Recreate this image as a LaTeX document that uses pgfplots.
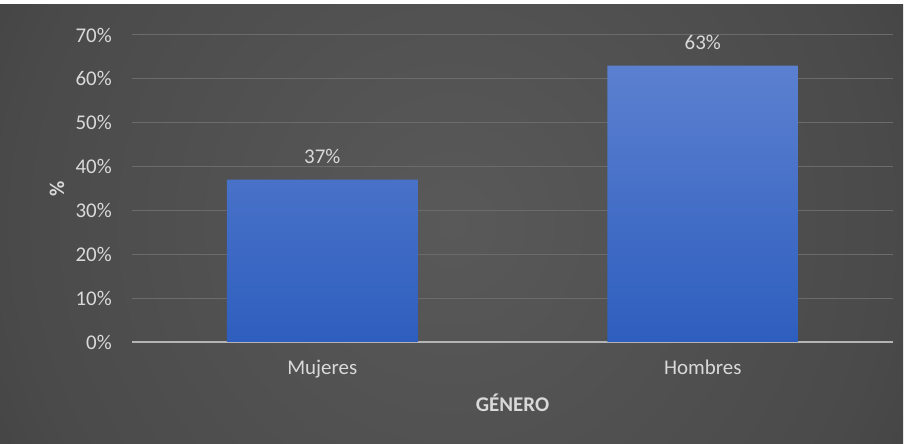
\documentclass[border=0pt]{standalone}
\usepackage{pgfplots}
\pgfplotsset{compat=1.18}
\usepackage{fontspec}
\setmainfont{Carlito}
\definecolor{bga}{HTML}{595959}
\definecolor{bgb}{HTML}{4A4A4A}
\definecolor{bgc}{HTML}{2B2B2B}
\definecolor{bgd}{HTML}{242424}
\definecolor{txt}{HTML}{D9D9D9}
\definecolor{gridc}{HTML}{6B6B6B}
\definecolor{axisc}{HTML}{B4B4B4}
\definecolor{bartop}{HTML}{5B80D0}
\definecolor{barbot}{HTML}{2E5EBE}
\pgfdeclareradialshading{bgshade}{\pgfpoint{0bp}{0bp}}{color(0bp)=(bga); color(21bp)=(bgb); color(43.5bp)=(bgc); color(50bp)=(bgd)}
\newcommand{\tf}{\fontsize{21}{24}\selectfont}
\begin{document}
\begin{tikzpicture}[x=1bp,y=1bp]
\fill[white] (0,0) rectangle (909,444);
\begin{scope}
\clip (0,0) rectangle (903,439);
\shade[shading=bgshade] (452,220) circle (520);
\end{scope}
\useasboundingbox (0,0) rectangle (909,444);
\begin{axis}[
  at={(132bp,102bp)}, anchor=south west,
  scale only axis, width=761bp, height=307bp,
  xmin=-0.5, xmax=1.5, ymin=0, ymax=70,
  /pgf/number format/assume math mode=true,
  axis x line*=bottom, axis y line*=left,
  x axis line style={draw=axisc, line width=1.4bp, -},
  y axis line style={draw=none},
  tick style={draw=none},
  xtick={0,1}, xticklabels={Mujeres,Hombres},
  ytick={0,10,...,70},
  yticklabels={0\%,10\%,20\%,30\%,40\%,50\%,60\%,70\%},
  ymajorgrids, grid style={draw=gridc, line width=1bp},
  yticklabel style={text=txt, font=\tf, anchor=east, inner sep=0pt, xshift=-20bp},
  xticklabel style={text=txt, font=\tf, anchor=north, inner sep=0pt, yshift=-18bp},
  xlabel={GÉNERO}, ylabel={\%},
  xlabel style={text=txt, font=\tf\bfseries, at={(axis description cs:0.5,0)}, anchor=base, yshift=-70bp},
  ylabel style={text=txt, font=\tf\bfseries, at={(axis description cs:-0.0986,0.5)}, anchor=center},
]
\addplot[ybar, bar width=191bp, draw=none, top color=bartop, bottom color=barbot,
  nodes near coords={\pgfmathprintnumber{\pgfplotspointmeta}\%},
  nodes near coords style={text=txt, font=\tf, anchor=base, inner sep=0pt, yshift=16bp}]
  coordinates {(0,37) (1,63)};
\end{axis}
\end{tikzpicture}
\end{document}
